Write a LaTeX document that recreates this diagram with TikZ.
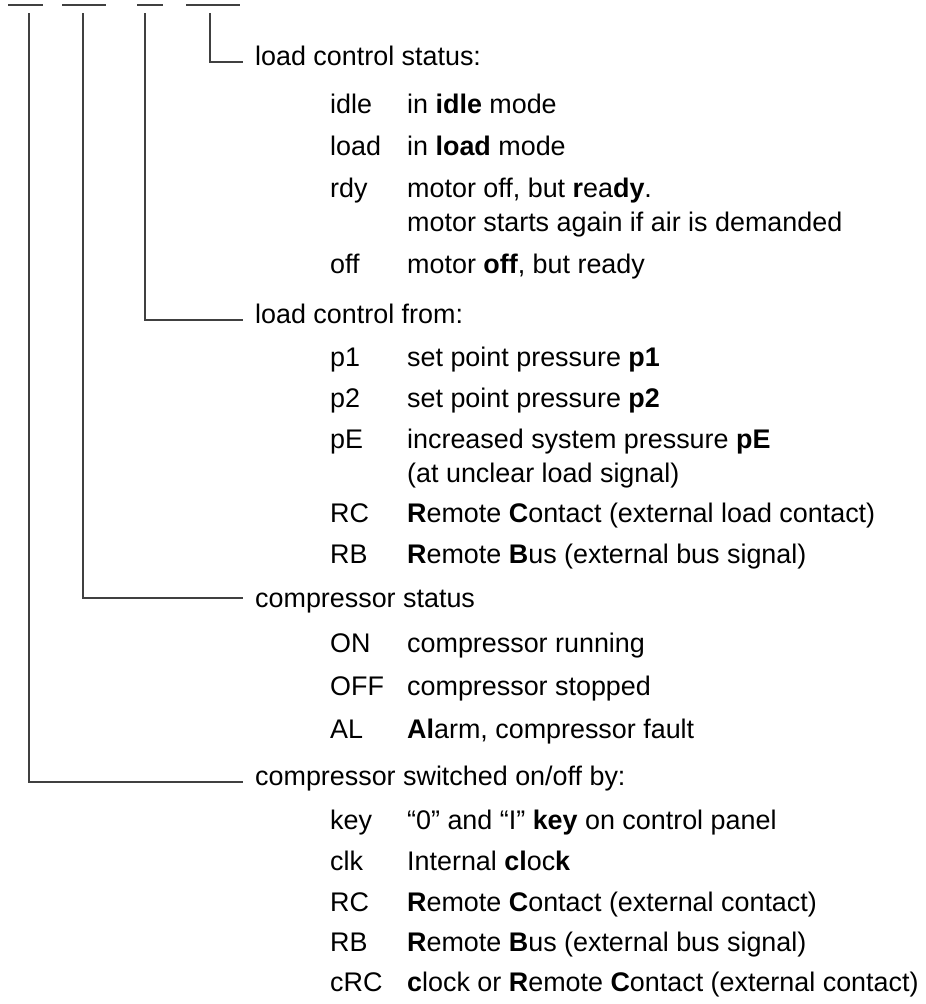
\documentclass[tikz,border=0pt]{standalone}
\usepackage{fontspec}
\setmainfont{Liberation Sans}
\newcommand\fs{\fontsize{26.9}{32}\selectfont}
\begin{document}
\begin{tikzpicture}[x=1pt,y=-1pt,
  txt/.style={anchor=base west,inner sep=0pt,font=\fs},
  conn/.style={line width=1.2pt,draw=black!75},
  blank/.style={line width=1.2pt,draw=black!75}]
\useasboundingbox (0,0) rectangle (926,1004);
% blanks at the top
\coordinate (b1l) at (8,5);   \coordinate (b1r) at (43,5);
\coordinate (b2l) at (62,5);  \coordinate (b2r) at (106,5);
\coordinate (b3l) at (137,5); \coordinate (b3r) at (163,5);
\coordinate (b4l) at (186,5); \coordinate (b4r) at (240,5);
\draw[blank] (b1l) -- (b1r);
\draw[blank] (b2l) -- (b2r);
\draw[blank] (b3l) -- (b3r);
\draw[blank] (b4l) -- (b4r);
% connector starts
\coordinate (s1) at (29,13);
\coordinate (s2) at (83,13);
\coordinate (s3) at (145,13);
\coordinate (s4) at (210,13);
% connector ends
\coordinate (e4) at (243,62);
\coordinate (e3) at (243,320);
\coordinate (e2) at (243,598);
\coordinate (e1) at (243,782);
\draw[conn] (s4) |- (e4);
\draw[conn] (s3) |- (e3);
\draw[conn] (s2) |- (e2);
\draw[conn] (s1) |- (e1);
% headers
\node[txt] (h4) at (255,65) {load control status:};
\node[txt] (h3) at (255,323) {load control from:};
\node[txt] (h2) at (255,607) {compressor status};
\node[txt] (h1) at (255,785) {compressor switched on/off by:};
% section: load control status
\node[txt] (k11) at (330,113) {idle};
\node[txt] (d11) at (407,113) {in \textbf{idle} mode};
\node[txt] (k12) at (330,155) {load};
\node[txt] (d12) at (407,155) {in \textbf{load} mode};
\node[txt] (k13) at (330,197) {rdy};
\node[txt] (d13) at (407,197) {motor off, but \textbf{r}ea\textbf{dy}.};
\node[txt] (d13b) at (407,231) {motor starts again if air is demanded};
\node[txt] (k14) at (330,273) {off};
\node[txt] (d14) at (407,273) {motor \textbf{off}, but ready};
% section: load control from
\node[txt] (k21) at (330,366) {p1};
\node[txt] (d21) at (407,366) {set point pressure \textbf{p1}};
\node[txt] (k22) at (330,407) {p2};
\node[txt] (d22) at (407,407) {set point pressure \textbf{p2}};
\node[txt] (k23) at (330,448) {pE};
\node[txt] (d23) at (407,448) {increased system pressure \textbf{pE}};
\node[txt] (d23b) at (407,482) {(at unclear load signal)};
\node[txt] (k24) at (330,522) {RC};
\node[txt] (d24) at (407,522) {\textbf{R}emote \textbf{C}ontact (external load contact)};
\node[txt] (k25) at (330,563) {RB};
\node[txt] (d25) at (407,563) {\textbf{R}emote \textbf{B}us (external bus signal)};
% section: compressor status
\node[txt] (k31) at (330,652) {ON};
\node[txt] (d31) at (407,652) {compressor running};
\node[txt] (k32) at (330,695) {OFF};
\node[txt] (d32) at (407,695) {compressor stopped};
\node[txt] (k33) at (330,738) {AL};
\node[txt] (d33) at (407,738) {\textbf{Al}arm, compressor fault};
% section: compressor switched on/off by
\node[txt] (k41) at (330,829) {key};
\node[txt] (d41) at (407,829) {“0” and “I” \textbf{key} on control panel};
\node[txt] (k42) at (330,870) {clk};
\node[txt] (d42) at (407,870) {Internal \textbf{cl}oc\textbf{k}};
\node[txt] (k43) at (330,911) {RC};
\node[txt] (d43) at (407,911) {\textbf{R}emote \textbf{C}ontact (external contact)};
\node[txt] (k44) at (330,951) {RB};
\node[txt] (d44) at (407,951) {\textbf{R}emote \textbf{B}us (external bus signal)};
\node[txt] (k45) at (330,991) {cRC};
\node[txt] (d45) at (407,991) {\textbf{c}lock or \textbf{R}emote \textbf{C}ontact (external contact)};
\end{tikzpicture}
\end{document}
